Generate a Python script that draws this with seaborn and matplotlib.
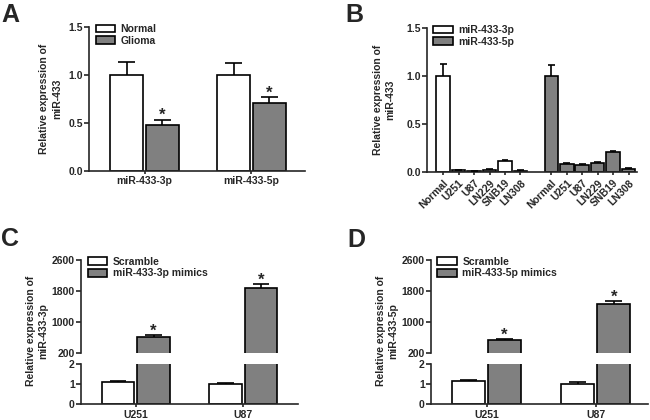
# Four-panel bar figure: miR-433 expression (A-D), Prism-like styling
import numpy as np
import pandas as pd
import seaborn as sns
import matplotlib.pyplot as plt
from matplotlib.patches import Patch

# ---------------- data ----------------
# panel A: tissue
genes = ["miR-433-3p", "miR-433-5p"]
tissues = ["Normal", "Glioma"]
a_normal = [1.00, 1.00]
a_normal_err = [0.13, 0.12]
a_glioma = [0.48, 0.71]
a_glioma_err = [0.055, 0.06]

# panel B: cell lines
cells = ["Normal", "U251", "U87", "LN229", "SNB19", "LN308"]
series_b = ["miR-433-3p", "miR-433-5p"]
b_3p = [1.00, 0.020, 0.013, 0.027, 0.118, 0.017]
b_3p_err = [0.13, 0.003, 0.002, 0.003, 0.004, 0.003]
b_5p = [1.00, 0.090, 0.080, 0.100, 0.215, 0.038]
b_5p_err = [0.12, 0.004, 0.004, 0.004, 0.005, 0.004]

# panels C and D: mimics transfection
lines = ["U251", "U87"]
c_groups = ["Scramble", "miR-433-3p mimics"]
c_scramble = [1.08, 0.99]
c_scramble_err = [0.05, 0.06]
c_mimics = [610, 1877]
c_mimics_err = [40, 86]

d_groups = ["Scramble", "miR-433-5p mimics"]
d_scramble = [1.13, 1.02]
d_scramble_err = [0.05, 0.06]
d_mimics = [522, 1452]
d_mimics_err = [36, 85]

# ---------------- style ----------------
sns.set_style("ticks")
plt.rcParams["font.family"] = ["Liberation Sans", "DejaVu Sans"]
plt.rcParams["font.weight"] = "bold"
plt.rcParams["axes.labelweight"] = "bold"
plt.rcParams["axes.linewidth"] = 1.2
plt.rcParams["xtick.major.width"] = 1.2
plt.rcParams["ytick.major.width"] = 1.2
plt.rcParams["xtick.major.size"] = 2.5
plt.rcParams["ytick.major.size"] = 3.5
plt.rcParams["xtick.major.pad"] = 1.5
plt.rcParams["ytick.major.pad"] = 1.0
plt.rcParams["xtick.direction"] = "out"
plt.rcParams["ytick.direction"] = "out"

GRAY = "#808080"
FS = 7.5
LW = 1.2


def err_and_stars(ax, df, hue, hue_order, star_level=None):
    # error caps (upper only) placed from the bar patches seaborn drew
    for cont, level in zip(ax.containers, hue_order):
        sub = df[df[hue] == level]
        for patch, (_, row) in zip(cont.patches, sub.iterrows()):
            xc = patch.get_x() + patch.get_width() / 2
            w = patch.get_width()
            top = row["value"]
            hi = top + row["err"]
            ax.plot([xc, xc], [top, hi], color="black", lw=LW, zorder=3,
                    solid_capstyle="butt")
            ax.plot([xc - w / 4, xc + w / 4], [hi, hi], color="black", lw=LW,
                    zorder=3, solid_capstyle="butt")
            if star_level is not None and level == star_level:
                ax.annotate("*", (xc, hi), xytext=(0, -2.5),
                            textcoords="offset points", ha="center",
                            va="bottom", fontsize=12, fontweight="bold")


def legend(ax, labels, anchor):
    handles = [Patch(facecolor=c, edgecolor="black", linewidth=LW)
               for c in ["white", GRAY]]
    ax.legend(handles, labels, loc="upper left", bbox_to_anchor=anchor,
              frameon=False, fontsize=FS, handlelength=1.9, handleheight=0.75,
              handletextpad=0.5, labelspacing=0.15, borderpad=0,
              borderaxespad=0)


def style_y(ax, ticks, fmt):
    ax.set_yticks(ticks)
    ax.set_yticklabels([fmt.format(t) for t in ticks], fontsize=FS)
    sns.despine(ax=ax)


fig = plt.figure(figsize=(6.5, 4.2), dpi=100)

# ---------------- panel A ----------------
axA = fig.add_axes([0.137, 0.593, 0.332, 0.343])
dfA = pd.DataFrame({
    "gene": genes * 2,
    "tissue": [tissues[0]] * 2 + [tissues[1]] * 2,
    "value": a_normal + a_glioma,
    "err": a_normal_err + a_glioma_err,
})
sns.barplot(data=dfA, x="gene", y="value", hue="tissue", order=genes,
            hue_order=tissues, palette=["white", GRAY], width=0.67, gap=0.08,
            errorbar=None, legend=False, edgecolor="black", linewidth=LW, ax=axA)
err_and_stars(axA, dfA, "tissue", tissues, star_level="Glioma")
axA.set_ylim(0, 1.5)
axA.set_xlim(-0.52, 1.50)
style_y(axA, [0, 0.5, 1.0, 1.5], "{:.1f}")
axA.set_xticks(range(len(genes)))
axA.set_xticklabels(genes, fontsize=FS)
axA.set_xlabel("")
axA.set_ylabel("Relative expression of\nmiR-433", fontsize=FS, labelpad=4,
               linespacing=1.45)
legend(axA, tissues, (0.03, 1.02))

# ---------------- panel B ----------------
axB = fig.add_axes([0.657, 0.590, 0.323, 0.343])
keys3 = [c + "|3p" for c in cells]
keys5 = [c + "|5p" for c in cells]
orderB = keys3 + ["gap"] + keys5
dfB = pd.DataFrame({
    "key": keys3 + keys5,
    "series": [series_b[0]] * len(cells) + [series_b[1]] * len(cells),
    "value": b_3p + b_5p,
    "err": b_3p_err + b_5p_err,
})
sns.barplot(data=dfB, x="key", y="value", hue="series", order=orderB,
            hue_order=series_b, palette=["white", GRAY], width=0.88, dodge=False,
            errorbar=None, legend=False, edgecolor="black", linewidth=LW, ax=axB)
err_and_stars(axB, dfB, "series", series_b)
axB.set_ylim(0, 1.5)
axB.set_xlim(-1.05, 12.55)
style_y(axB, [0, 0.5, 1.0, 1.5], "{:.1f}")
centers = [p.get_x() + p.get_width() / 2 for cont in axB.containers for p in cont.patches]
axB.set_xticks(centers)
axB.set_xticklabels(cells + cells, fontsize=FS, rotation=45, ha="right",
                    rotation_mode="anchor")
axB.set_xlabel("")
axB.set_ylabel("Relative expression of\nmiR-433", fontsize=FS, labelpad=8,
               linespacing=1.3)
legend(axB, series_b, (0.03, 1.02))


# ---------------- panels C and D (broken y axis) ----------------
def broken_panel(left, width, groups, scr, scr_err, mim, mim_err, xlim, ylab_x, ylab):
    up = fig.add_axes([left, 0.160, width, 0.222])
    lo = fig.add_axes([left, 0.038, width, 0.095])
    df = pd.DataFrame({
        "line": lines * 2,
        "group": [groups[0]] * 2 + [groups[1]] * 2,
        "value": scr + mim,
        "err": scr_err + mim_err,
    })
    for ax in (up, lo):
        sns.barplot(data=df, x="line", y="value", hue="group", order=lines,
                    hue_order=groups, palette=["white", GRAY], width=0.66,
                    gap=0.08, errorbar=None, legend=False, edgecolor="black",
                    linewidth=LW, ax=ax)
        ax.set_xlim(*xlim)
        ax.set_xlabel("")
        ax.set_ylabel("")
    err_and_stars(up, df, "group", groups, star_level=groups[1])
    err_and_stars(lo, df, "group", groups)
    up.set_ylim(200, 2600)
    style_y(up, [200, 1000, 1800, 2600], "{:d}")
    up.spines["bottom"].set_visible(False)
    up.tick_params(axis="x", bottom=False, labelbottom=False)
    lo.set_ylim(0, 2)
    style_y(lo, [0, 1, 2], "{:d}")
    lo.set_xticks(range(len(lines)))
    lo.set_xticklabels(lines, fontsize=FS)
    legend(up, groups, (0.03, 1.03))
    fig.text(ylab_x, 0.212, "Relative expression of\n" + ylab, rotation=90,
             ha="center", va="center", fontsize=FS, fontweight="bold",
             linespacing=1.3)
    return up, lo


broken_panel(0.1246, 0.334, c_groups, c_scramble, c_scramble_err, c_mimics,
             c_mimics_err, (-0.51, 1.51), 0.057, "miR-433-3p")
broken_panel(0.663, 0.334, d_groups, d_scramble, d_scramble_err, d_mimics,
             d_mimics_err, (-0.51, 1.48), 0.595, "miR-433-5p")

# panel letters
for x, y, s in [(0.002, 0.948, "A"), (0.532, 0.948, "B"),
                (0.002, 0.414, "C"), (0.534, 0.412, "D")]:
    fig.text(x, y, s, fontsize=18, fontweight="bold", va="baseline", ha="left")

fig.savefig("out.png", dpi=100)
